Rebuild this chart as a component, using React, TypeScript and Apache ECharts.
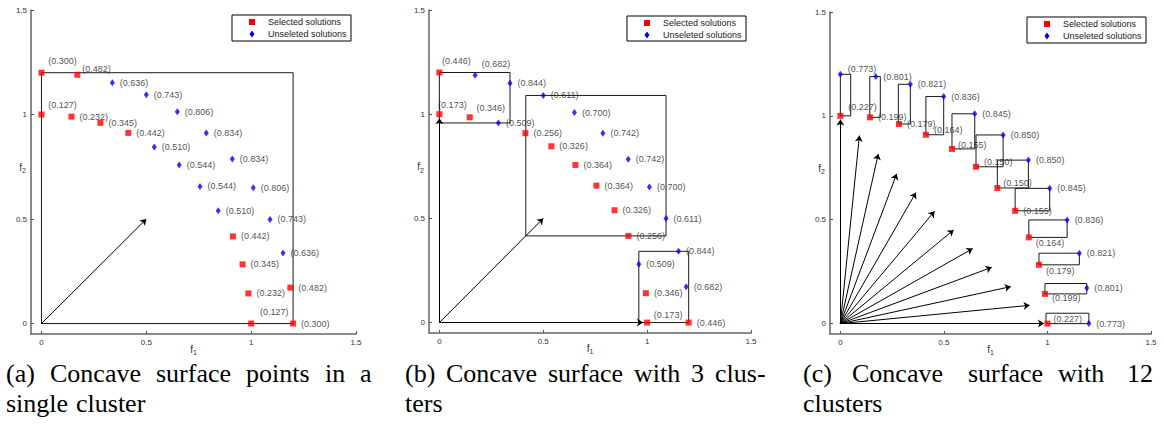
import { useEffect, useRef } from "react";
import * as echarts from "echarts";

// Axis ticks shared by the three panels
const tickValues = [0, 0.5, 1, 1.5];
const axisMin = -0.05;
const axisMax = 1.5;

// Each point: [f1, f2, crowding value shown next to the marker]
// (a) Concave surface points in a single cluster
const aSelected: number[][] = [
  [0, 1.2, 0.3],
  [0.171, 1.19, 0.482],
  [0, 1.0, 0.127],
  [0.143, 0.99, 0.232],
  [0.281, 0.96, 0.345],
  [0.414, 0.912, 0.442],
  [0.913, 0.417, 0.442],
  [0.959, 0.283, 0.345],
  [0.987, 0.144, 0.232],
  [1.187, 0.172, 0.482],
  [1.0, 0, 0.127],
  [1.2, 0, 0.3],
];
const aUnselected: number[][] = [
  [0.338, 1.152, 0.636],
  [0.5, 1.094, 0.743],
  [0.648, 1.013, 0.806],
  [0.786, 0.912, 0.834],
  [0.538, 0.845, 0.51],
  [0.91, 0.787, 0.834],
  [0.657, 0.758, 0.544],
  [0.756, 0.656, 0.544],
  [1.01, 0.65, 0.806],
  [0.843, 0.54, 0.51],
  [1.09, 0.498, 0.743],
  [1.152, 0.338, 0.636],
];
// cluster boxes: [f1 min, f2 min, f1 max, f2 max]
const aBoxes: number[][] = [[0, 0, 1.2, 1.2]];
// reference directions: [from f1, from f2, to f1, to f2]
const aArrows: number[][] = [[0, 0, 0.5, 0.5]];

// (b) Concave surface with 3 clusters
const bSelected: number[][] = [
  [0, 1.2, 0.446],
  [0, 1.0, 0.173],
  [0.146, 0.985, 0.346],
  [0.414, 0.909, 0.256],
  [0.539, 0.846, 0.326],
  [0.655, 0.756, 0.364],
  [0.756, 0.657, 0.364],
  [0.843, 0.539, 0.326],
  [0.91, 0.416, 0.256],
  [0.994, 0.141, 0.346],
  [1.0, 0, 0.173],
  [1.2, 0, 0.446],
];
const bUnselected: number[][] = [
  [0.172, 1.187, 0.682],
  [0.34, 1.149, 0.844],
  [0.284, 0.958, 0.509],
  [0.5, 1.09, 0.611],
  [0.65, 1.008, 0.7],
  [0.787, 0.908, 0.742],
  [0.909, 0.784, 0.742],
  [1.011, 0.651, 0.7],
  [1.091, 0.499, 0.611],
  [1.151, 0.342, 0.844],
  [0.96, 0.28, 0.509],
  [1.188, 0.172, 0.682],
];
const bBoxes: number[][] = [
  [0, 0.958, 0.34, 1.2],
  [0.416, 0.416, 1.091, 1.09],
  [0.96, 0, 1.2, 0.342],
];
const bArrows: number[][] = [
  [0, 0, 0, 0.98],
  [0, 0, 0.5, 0.5],
  [0, 0, 0.98, 0],
];

// (c) Concave surface with 12 clusters
const cSelected: number[][] = [
  [0, 1.0, 0.227],
  [0.143, 0.993, 0.199],
  [0.283, 0.961, 0.179],
  [0.413, 0.909, 0.164],
  [0.539, 0.841, 0.155],
  [0.655, 0.755, 0.15],
  [0.758, 0.653, 0.15],
  [0.844, 0.543, 0.155],
  [0.91, 0.415, 0.164],
  [0.959, 0.283, 0.179],
  [0.988, 0.143, 0.199],
  [1.0, 0, 0.227],
];
const cUnselected: number[][] = [
  [0, 1.2, 0.773],
  [0.171, 1.189, 0.801],
  [0.338, 1.152, 0.821],
  [0.499, 1.093, 0.836],
  [0.649, 1.01, 0.845],
  [0.786, 0.908, 0.85],
  [0.908, 0.787, 0.85],
  [1.011, 0.651, 0.845],
  [1.095, 0.499, 0.836],
  [1.154, 0.339, 0.821],
  [1.19, 0.172, 0.801],
  [1.2, 0, 0.773],
];
const cBoxes: number[][] = [
  [0, 1.0, 0.05, 1.2],
  [0.142, 0.993, 0.193, 1.189],
  [0.28, 0.961, 0.338, 1.152],
  [0.413, 0.909, 0.499, 1.093],
  [0.539, 0.841, 0.649, 1.01],
  [0.655, 0.755, 0.786, 0.908],
  [0.758, 0.653, 0.908, 0.787],
  [0.844, 0.543, 1.011, 0.651],
  [0.91, 0.415, 1.095, 0.499],
  [0.959, 0.283, 1.154, 0.339],
  [0.988, 0.143, 1.19, 0.193],
  [0.993, 0, 1.2, 0.05],
];
const cArrows: number[][] = [
  [0, 0, 0, 0.982],
  [0, 0, 0.092, 0.905],
  [0, 0, 0.183, 0.817],
  [0, 0, 0.272, 0.721],
  [0, 0, 0.365, 0.631],
  [0, 0, 0.455, 0.541],
  [0, 0, 0.547, 0.451],
  [0, 0, 0.639, 0.361],
  [0, 0, 0.731, 0.271],
  [0, 0, 0.823, 0.178],
  [0, 0, 0.914, 0.088],
  [0, 0, 0.983, 0],
];

const selectedName = "Selected solutions";
const unselectedName = "Unseleted solutions";

// Sub-figure captions, justified word by word: [word, left edge]
const captionLine1: [string, number][] = [
  ["(a)", 6], ["Concave", 50], ["surface", 156], ["points", 246], ["in", 325], ["a", 360],
  ["(b)", 405], ["Concave", 446], ["surface", 548], ["with", 634], ["3", 691], ["clus-", 715],
  ["(c)", 803], ["Concave", 852], ["surface", 968], ["with", 1058], ["12", 1127],
];
const captionLine2: [string, number][] = [
  ["single", 6], ["cluster", 76],
  ["ters", 405],
  ["clusters", 803],
];

const SANS = '"Liberation Sans", Arial, Helvetica, sans-serif';
const SERIF = '"Liberation Serif", "DejaVu Serif", serif';

const grids = [
  { left: 31, top: 10, width: 325, height: 324 },
  { left: 429, top: 10, width: 322, height: 323 },
  { left: 830, top: 12, width: 321, height: 322 },
];
// legend boxes: left, top, width, height
const legendBoxes = [
  [232, 15, 119, 26],
  [627, 16, 119, 25],
  [1027, 17, 119, 26],
];

// Where a value label sits when it is not simply to the right of its marker
type Tweak = { position?: string; offset?: [number, number] };
const labelTweaks: Record<string, Tweak> = {
  "0-s-0": { position: "top", offset: [21, 1] },
  "0-s-1": { offset: [-3, -6] },
  "0-s-2": { position: "top", offset: [21, 3] },
  "0-s-10": { position: "top", offset: [23, 1] },
  "1-s-0": { position: "top", offset: [17, 1] },
  "1-u-0": { position: "top", offset: [21, 2] },
  "1-s-1": { position: "top", offset: [13, 3] },
  "1-s-2": { position: "top", offset: [21, 3] },
  "1-s-10": { position: "top", offset: [21, 5] },
  "2-u-0": { offset: [0, -5] },
  "2-s-0": { offset: [0, -9] },
  "2-s-3": { offset: [0, -5] },
  "2-s-4": { offset: [-2, -4] },
  "2-s-5": { offset: [0, -5] },
  "2-s-6": { offset: [-2, -5] },
  "2-s-8": { offset: [-1, 6] },
  "2-s-9": { offset: [-1, 6] },
  "2-s-10": { offset: [-1, 4] },
  "2-s-11": { offset: [-2, -5] },
};

const panels = [
  { selected: aSelected, unselected: aUnselected, boxes: aBoxes, arrows: aArrows },
  { selected: bSelected, unselected: bUnselected, boxes: bBoxes, arrows: bArrows },
  { selected: cSelected, unselected: cUnselected, boxes: cBoxes, arrows: cArrows },
];

function pointItems(points: number[][], panel: number, kind: string) {
  return points.map((p, i) => {
    const t = labelTweaks[`${panel}-${kind}-${i}`];
    return {
      value: p,
      label: t ? { position: t.position ?? "right", offset: t.offset ?? [0, 0] } : undefined,
    };
  });
}

function legendGraphic([x, y, w, h]: number[]) {
  const row1 = y + 7;
  const row2 = y + 19;
  const cx = x + 20;
  const textStyle = { fontSize: 9, fontFamily: SANS, fill: "#222", textVerticalAlign: "middle" };
  return {
    type: "group",
    silent: true,
    children: [
      { type: "rect", shape: { x, y, width: w, height: h }, style: { fill: "#fff", stroke: "#000", lineWidth: 1 } },
      { type: "rect", shape: { x: cx - 3, y: row1 - 3, width: 6, height: 6 }, style: { fill: "#ff0000" } },
      {
        type: "polygon",
        shape: { points: [[cx, row2 - 3.5], [cx + 2.5, row2], [cx, row2 + 3.5], [cx - 2.5, row2]] },
        style: { fill: "#0000ff" },
      },
      { type: "text", x: x + 36, y: row1, style: { text: selectedName, ...textStyle } },
      { type: "text", x: x + 36, y: row2, style: { text: unselectedName, ...textStyle } },
    ],
  };
}

function buildOption(): echarts.EChartsOption {
  const series: any[] = [];
  panels.forEach((p, i) => {
    series.push({
      type: "lines",
      coordinateSystem: "cartesian2d",
      xAxisIndex: i,
      yAxisIndex: i,
      polyline: true,
      silent: true,
      z: 2,
      lineStyle: { color: "#1a1a1a", width: 1, opacity: 1 },
      data: p.boxes.map(([x1, y1, x2, y2]) => ({
        coords: [[x1, y1], [x2, y1], [x2, y2], [x1, y2], [x1, y1]],
      })),
    });
    series.push({
      type: "lines",
      coordinateSystem: "cartesian2d",
      xAxisIndex: i,
      yAxisIndex: i,
      silent: true,
      z: 3,
      symbol: ["none", "arrow"],
      symbolSize: 6,
      lineStyle: { color: "#000", width: 1, opacity: 1 },
      data: p.arrows.map(([x1, y1, x2, y2]) => ({ coords: [[x1, y1], [x2, y2]] })),
    });
    const labelBase = {
      show: true,
      position: "right",
      distance: 5,
      fontSize: 9,
      fontFamily: SANS,
      color: "#222",
      formatter: (d: any) => `(${Number(d.value[2]).toFixed(3)})`,
    };
    series.push({
      type: "scatter",
      name: selectedName,
      xAxisIndex: i,
      yAxisIndex: i,
      z: 5,
      symbol: "rect",
      symbolSize: 6,
      itemStyle: { color: "#ff0000" },
      label: labelBase,
      data: pointItems(p.selected, i, "s"),
    });
    series.push({
      type: "scatter",
      name: unselectedName,
      xAxisIndex: i,
      yAxisIndex: i,
      z: 5,
      symbol: "diamond",
      symbolSize: [5, 7],
      itemStyle: { color: "#0000ff" },
      label: labelBase,
      data: pointItems(p.unselected, i, "u"),
    });
  });

  const rich = {
    f: { fontSize: 10, fontFamily: SANS, color: "#333" },
    s: { fontSize: 7, fontFamily: SANS, color: "#333", padding: [7, 0, 0, 0] },
  };
  const axisCommon = {
    type: "value" as const,
    min: axisMin,
    max: axisMax,
    splitLine: { show: false },
    axisLine: { show: true, onZero: false, lineStyle: { color: "#666", width: 1.5 } },
    axisTick: {
      show: true,
      inside: true,
      length: 3,
      customValues: tickValues,
      lineStyle: { color: "#555" },
    },
    axisLabel: {
      customValues: tickValues,
      fontSize: 8,
      color: "#333",
      margin: 4,
      fontFamily: SANS,
    },
    nameLocation: "middle" as const,
    nameMoveOverlap: false,
  };

  const serifText = ([text, x]: [string, number], y: number) => ({
    type: "text",
    x,
    y,
    silent: true,
    style: { text, fontSize: 26, fontFamily: SERIF, fill: "#000", textVerticalAlign: "middle" },
  });

  return {
    animation: false,
    backgroundColor: "#fff",
    grid: grids.map((g) => ({ ...g, containLabel: false })),
    xAxis: grids.map((_, i) => ({
      ...axisCommon,
      gridIndex: i,
      name: "{f|f}{s|1}",
      nameGap: 8,
      nameTextStyle: { rich },
    })),
    yAxis: grids.map((_, i) => ({
      ...axisCommon,
      gridIndex: i,
      name: "{f|f}{s|2}",
      nameGap: 5,
      nameRotate: 0,
      nameTextStyle: { rich, padding: [0, 0, 10, 0] },
    })),
    series,
    graphic: [
      ...legendBoxes.map(legendGraphic),
      ...captionLine1.map((w) => serifText(w, 373)),
      ...captionLine2.map((w) => serifText(w, 403)),
    ],
  } as echarts.EChartsOption;
}

export default function App() {
  const ref = useRef<HTMLDivElement>(null);
  useEffect(() => {
    if (!ref.current) return;
    const chart = echarts.init(ref.current, undefined, { renderer: "svg" });
    chart.setOption(buildOption());
    return () => chart.dispose();
  }, []);
  return (
    <div
      ref={ref}
      style={{ position: "absolute", left: 0, top: 0, width: 1164, height: 428, background: "#fff" }}
    />
  );
}
